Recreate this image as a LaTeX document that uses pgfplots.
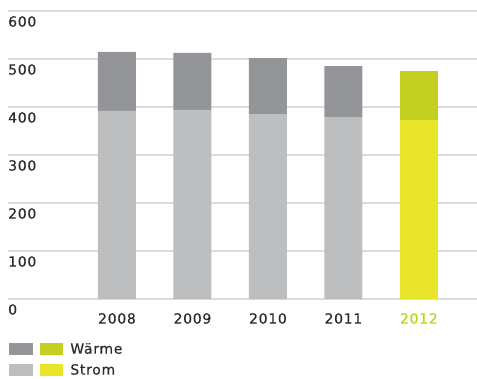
\documentclass[border=0pt]{standalone}
\usepackage{pgfplots}
\pgfplotsset{compat=1.18}
\usepackage{fontspec}
\setmainfont{DejaVu Sans}[LetterSpace=5, FakeBold=0.4]
\definecolor{dgray}{HTML}{939598}
\definecolor{lgray}{HTML}{BCBEC0}
\definecolor{lgreen}{HTML}{C3D022}
\definecolor{lyellow}{HTML}{E9E52A}
\definecolor{txt}{HTML}{2B2B2B}
\definecolor{grid}{HTML}{DCDCDC}
\begin{document}
\begin{tikzpicture}[x=1pt,y=1pt]
\useasboundingbox (0,0) rectangle (477,378);
\begin{axis}[
  at={(8pt,79pt)}, anchor=south west,
  scale only axis, width=469pt, height=288pt,
  xmin=-1.444, xmax=4.77, ymin=0, ymax=600,
  ybar stacked, bar width=38pt,
  axis line style={draw=none}, tick style={draw=none},
  ymajorgrids, grid style={line width=1.5pt, color=grid},
  ytick={0,100,200,300,400,500,600},
  xtick={0,1,2,3,4},
  xticklabels={2008,2009,2010,2011,\textcolor{lgreen}{2012}},
  /pgf/number format/assume math mode=true,
  tick label style={font=\fontsize{14}{16}\selectfont, text=txt, inner sep=0pt},
  yticklabel style={anchor=north west, xshift=0pt, yshift=-5pt},
  xticklabel style={anchor=north, yshift=-14pt},
  legend style={at={(axis description cs:0.002,-0.153)}, anchor=north west,
    draw=none, fill=none, inner sep=0pt, outer sep=0pt, row sep=9pt,
    font=\fontsize{14}{16}\selectfont, text=txt,
    nodes={inner sep=0pt}},
  legend cell align=left,
]
\addplot[fill=lgray, draw=none, forget plot] coordinates {(0,392) (1,394) (2,385) (3,379) (4,0)};
\addplot[fill=lyellow, draw=none, forget plot] coordinates {(0,0) (1,0) (2,0) (3,0) (4,373)};
\addplot[fill=dgray, draw=none, forget plot] coordinates {(0,123) (1,119) (2,117) (3,106) (4,0)};
\addplot[fill=lgreen, draw=none, forget plot] coordinates {(0,0) (1,0) (2,0) (3,0) (4,102)};
\addlegendimage{legend image code/.code={
  \fill[dgray] (0pt,-5.5pt) rectangle (23pt,5.5pt);
  \fill[lgreen] (31pt,-5.5pt) rectangle (53pt,5.5pt);
  \path (61pt,0pt);}}
\addlegendentry{Wärme}
\addlegendimage{legend image code/.code={
  \fill[lgray] (0pt,-5.5pt) rectangle (23pt,5.5pt);
  \fill[lyellow] (31pt,-5.5pt) rectangle (53pt,5.5pt);
  \path (61pt,0pt);}}
\addlegendentry{Strom}
\end{axis}
\end{tikzpicture}
\end{document}
